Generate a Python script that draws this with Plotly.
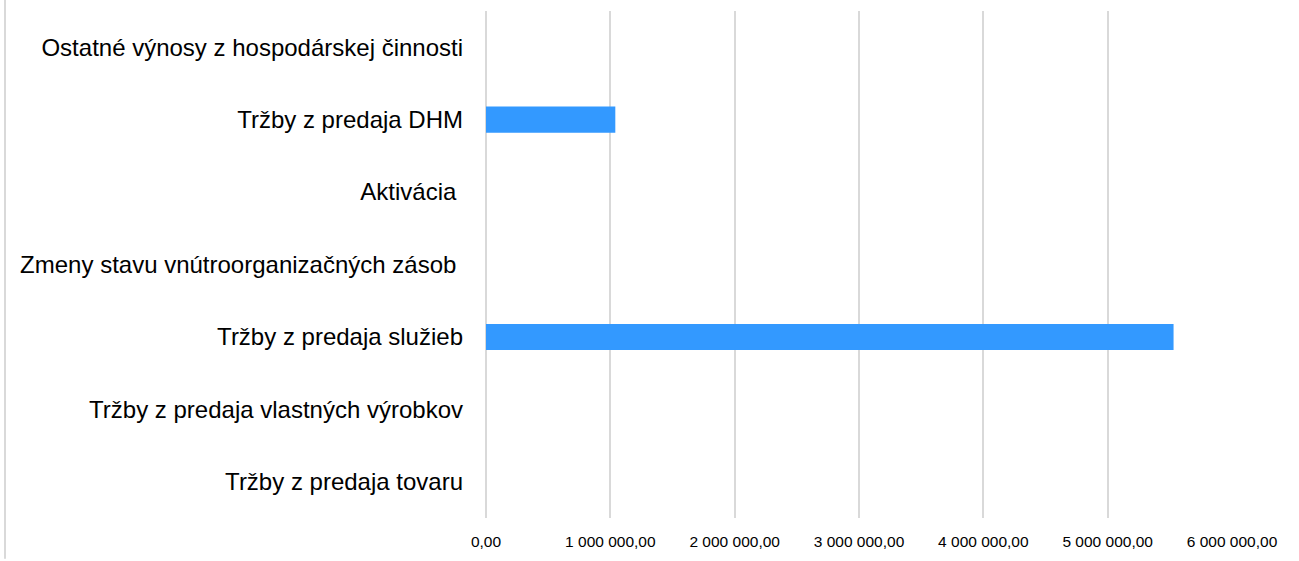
"""
Horizontal bar chart of revenue items
"""

import plotly.graph_objects as go

categories = [
    'Tržby z predaja tovaru',
    'Tržby z predaja vlastných výrobkov',
    'Tržby z predaja služieb',
    'Zmeny stavu vnútroorganizačných zásob\u00a0',
    'Aktivácia\u00a0',
    'Tržby z predaja DHM',
    'Ostatné výnosy z hospodárskej činnosti',
]
values = [0, 0, 5530000, 0, 0, 1040000, 0]
x_ticks = [0, 1000000, 2000000, 3000000, 4000000, 5000000, 6000000]

fig = go.Figure(go.Bar(
    x=values,
    y=categories,
    orientation='h',
    marker=dict(color='#3399FF', line=dict(width=0)),
    hovertemplate='%{y}: %{x:,.2f}<extra></extra>'
))

fig.update_layout(
    width=1299,
    height=561,
    margin=dict(l=486, r=67, t=11, b=41),
    paper_bgcolor='white',
    plot_bgcolor='white',
    separators=', ',
    bargap=0.64,
    showlegend=False,
    font=dict(family='Liberation Sans, Arial, sans-serif', color='#000000'),
)

fig.update_xaxes(
    range=[0, 6000000],
    tickvals=x_ticks,
    tickformat=',.2f',
    tickfont=dict(size=15.5),
    showgrid=True,
    gridcolor='#d9d9d9',
    gridwidth=1.5,
    zeroline=True,
    zerolinecolor='#d9d9d9',
    zerolinewidth=1.5,
    showline=False,
    ticklabelstandoff=12,
)

fig.update_yaxes(
    tickfont=dict(size=24),
    showgrid=False,
    showline=False,
    ticklabelstandoff=22,
)

# thin grey frame line at the left edge
fig.add_shape(
    type='line', xref='paper', yref='paper',
    x0=-481 / 746, x1=-481 / 746, y0=-41 / 509, y1=1 + 11 / 509,
    line=dict(color='#d9d9d9', width=2),
)

# drop the default page margin so the figure sits at the window corner
fig.write_html(
    "out.html",
    config={'displayModeBar': False},
    post_script="document.body.style.margin='0';",
)
